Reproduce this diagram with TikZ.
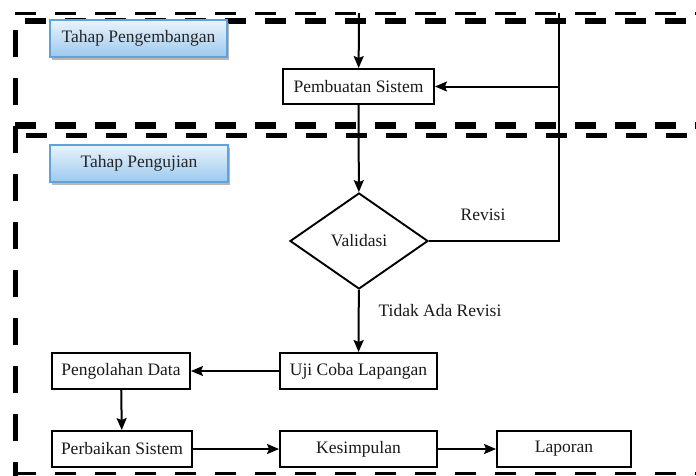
\documentclass[tikz,border=0pt]{standalone}
\usepackage{fontspec}
\setmainfont{Liberation Serif}
\usetikzlibrary{arrows.meta,shapes.geometric,shadows}
\definecolor{birumuda}{HTML}{EAF3FB}
\definecolor{birutua}{HTML}{9CC9EE}
\definecolor{garisbiru}{HTML}{5FA3DA}
\begin{document}
\begin{tikzpicture}[x=1pt, y=-1pt, font=\fontsize{17.5}{20}\selectfont, line join=miter, >={Stealth[length=12pt,width=10pt,inset=2pt]},
	kotak/.style={draw, line width=1.9pt, inner sep=0pt, minimum height=36pt, text=black!90},
	tahap/.style={draw=garisbiru, line width=1.2pt, top color=birumuda, bottom color=birutua, inner sep=0pt, minimum height=37pt, text=black!85,
		drop shadow={shadow xshift=2pt, shadow yshift=-3pt, fill=black!40, opacity=0.7}},
	putus/.style={line width=#1, dash pattern=on 21pt off 19pt},
	alur/.style={->, line width=2pt}]
	\useasboundingbox (0,0) rectangle (696,475);
	\begin{scope}
	\clip (0,0) rectangle (696,475); % batas gambar
	% garis putus-putus tiap tahap
	\draw[putus=3pt] (15,13) -- (720,13);
	\draw[putus=6pt, dash phase=-10pt] (15,21) -- (720,21);
	\draw[putus=7pt] (15,125) -- (720,125);
	\draw[putus=5pt, dash phase=-11pt] (15,135) -- (720,135);
	\draw[putus=3pt] (15,473) -- (720,473);
	\draw[line width=5pt, dash pattern=on 27pt off 21pt] (15,30) -- (15,480);
	\end{scope}
	% judul tahap
	\node[tahap, minimum width=177pt] (pengembangan) at (138.5,38.5) {Tahap Pengembangan};
	\node[tahap, minimum width=178pt] (pengujian) at (139,163.5) {Tahap Pengujian};
	% langkah
	\node[kotak, minimum width=151pt, minimum height=35pt] (pembuatan) at (358.5,86.5) {Pembuatan Sistem};
	\node[kotak, diamond, aspect=1.44, minimum width=138pt, minimum height=96pt] (validasi) at (359,241) {Validasi};
	\node[kotak, minimum width=157pt] (uji) at (358.5,371) {Uji Coba Lapangan};
	\node[kotak, minimum width=138pt] (olah) at (121,371) {Pengolahan Data};
	\node[kotak, minimum width=140pt] (perbaikan) at (122,449) {Perbaikan Sistem};
	\node[kotak, minimum width=157pt] (kesimpulan) at (358.5,449) {Kesimpulan};
	\node[kotak, minimum width=134pt] (laporan) at (564,449) {Laporan};
	\node[text=black!90] (revisi) at (483,215) {Revisi};
	\node[text=black!90] (tidak) at (440,311) {Tidak Ada Revisi};
	\coordinate (masuk) at (359,13);
	\coordinate (atas) at (559,13);
	\coordinate (belok) at (559,241);
	% panah
	\draw[alur] (masuk) -- (pembuatan);
	\draw[alur] (pembuatan) -- (validasi);
	\draw[line width=2pt] (validasi.east) -- (belok) -- (atas);
	\draw[alur] (belok |- pembuatan) -- (pembuatan.east);
	\draw[alur] (validasi) -- (uji);
	\draw[alur] (uji) -- (olah);
	\draw[alur] (olah) -- (perbaikan);
	\draw[alur] (perbaikan) -- (kesimpulan);
	\draw[alur] (kesimpulan) -- (laporan);
\end{tikzpicture}
\end{document}
